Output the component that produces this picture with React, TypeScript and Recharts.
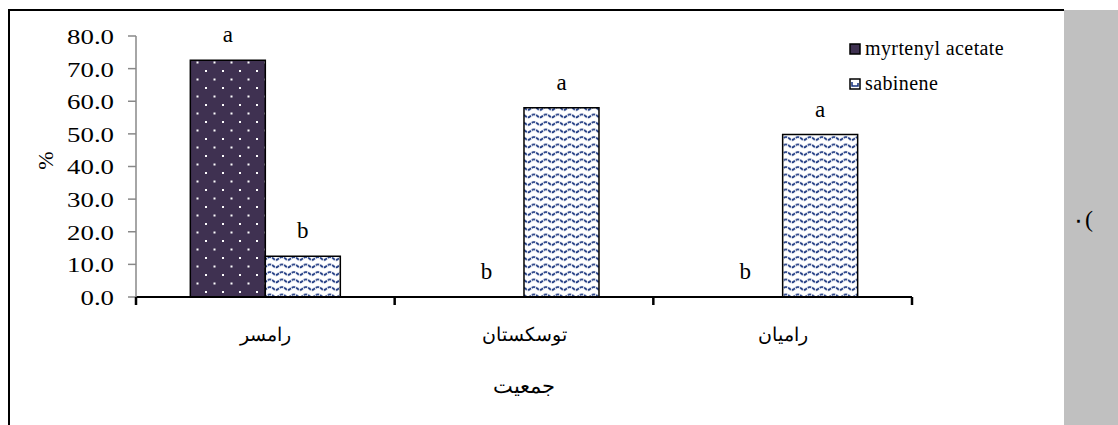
import { BarChart, Bar, XAxis, YAxis, Legend, LabelList } from "recharts";

const categories = ["رامسر", "توسکستان", "رامیان"];
const myrtenylAcetate = [72.6, 0, 0];
const sabinene = [12.5, 58.0, 49.8];
const myrtenylLetters = ["a", "b", "b"];
const sabineneLetters = ["b", "a", "a"];
const yTicks = [0, 10, 20, 30, 40, 50, 60, 70, 80];
const seriesNames = { myrtenyl: "myrtenyl acetate", sabinene: "sabinene" };

const data = categories.map((name, i) => ({
  name,
  myrtenyl: myrtenylAcetate[i],
  sabinene: sabinene[i],
  myrtenylLetter: myrtenylLetters[i],
  sabineneLetter: sabineneLetters[i],
}));

const SERIF = "'Liberation Serif', 'Times New Roman', 'DejaVu Serif', serif";
const PURPLE = "#3f3151";
const NAVY = "#17337d";
const LETTER_GAP = 18;

function CategoryTick(props: any) {
  const { x, y, payload, index, visibleTicksCount, width } = props;
  const half = payload?.offset ?? width / visibleTicksCount / 2;
  return (
    <g>
      <line x1={x - half} x2={x - half} y1={y} y2={y + 8} stroke="#000" strokeWidth={2.5} />
      {index === visibleTicksCount - 1 && (
        <line x1={x + half} x2={x + half} y1={y} y2={y + 8} stroke="#000" strokeWidth={2.5} />
      )}
      <text x={x} y={y + 44} textAnchor="middle" fontSize={19} fontFamily={SERIF} fill="#000">
        {payload.value}
      </text>
    </g>
  );
}

function ValueTick(props: any) {
  const { x, y, payload } = props;
  return (
    <text
      x={0}
      y={0}
      transform={`translate(${x},${y}) scale(1.22,1)`}
      dy="0.36em"
      textAnchor="end"
      fontSize={22}
      fontFamily={SERIF}
      fill="#000"
    >
      {Number(payload.value).toFixed(1)}
    </text>
  );
}

function Letter({ x, y, text }: { x: number; y: number; text: string }) {
  return (
    <text x={x} y={y} textAnchor="middle" fontSize={23} fontFamily={SERIF} fill="#000">
      {text}
    </text>
  );
}

// letters over the dotted bars (only where the bar has a height)
function MyrtenylLetter(props: any) {
  const { x, y, width, height, index } = props;
  if (!height) return null;
  return <Letter x={x + width / 2} y={y - LETTER_GAP} text={myrtenylLetters[index]} />;
}

// letters over the wavy bars, plus the letter of an empty neighbour bar on the axis
function SabineneLetter(props: any) {
  const { x, y, width, height, index } = props;
  const base = y + height;
  return (
    <g>
      <Letter x={x + width / 2} y={y - LETTER_GAP} text={sabineneLetters[index]} />
      {myrtenylAcetate[index] === 0 && (
        <Letter x={x - width / 2} y={base - LETTER_GAP} text={myrtenylLetters[index]} />
      )}
    </g>
  );
}

function LegendBox({ payload }: any) {
  return (
    <div style={{ fontFamily: SERIF, fontSize: 20, color: "#000", letterSpacing: 0.4 }}>
      {(payload || []).map((p: any) => {
        const dark = p.dataKey === "myrtenyl";
        return (
          <div key={p.dataKey} style={{ display: "flex", alignItems: "center", height: 35, whiteSpace: "nowrap" }}>
            <svg width={12} height={12} style={{ marginRight: 4 }}>
              <rect x={1} y={1} width={10} height={10} fill={dark ? PURPLE : "#fff"} stroke="#000" strokeWidth={1.5} />
              {!dark && <path d="M3,4 L3,8 L9,8 L9,5" fill="none" stroke={NAVY} strokeWidth={1.5} />}
            </svg>
            <span>{p.value}</span>
          </div>
        );
      })}
    </div>
  );
}

export default function App() {
  return (
    <div style={{ position: "absolute", left: 0, top: 0, width: 1118, height: 425, background: "#fff", overflow: "hidden" }}>
      <div style={{ position: "absolute", left: 8, top: 9, width: 1056, height: 2, background: "#000" }} />
      <div style={{ position: "absolute", left: 8, top: 9, width: 2, height: 416, background: "#000" }} />
      <div style={{ position: "absolute", left: 1064, top: 10, width: 54, height: 415, background: "#c0c0c0" }} />
      <div style={{ position: "absolute", left: 1072, top: 206, fontSize: 24, fontFamily: SERIF, color: "#000" }}>٠</div>
      <div style={{ position: "absolute", left: 1085, top: 206, fontSize: 24, fontFamily: SERIF, color: "#000", direction: "ltr" }}>(</div>
      <div style={{ position: "absolute", left: 0, top: 0 }}>
        <BarChart
          width={1064}
          height={425}
          data={data}
          margin={{ top: 36, right: 152, left: 36, bottom: 28 }}
          barCategoryGap="21%"
          barGap={0}
        >
          <defs>
            <pattern id="dots" width={17} height={17} patternUnits="userSpaceOnUse">
              <rect width={17} height={17} fill={PURPLE} />
              <rect x={1} y={2} width={2} height={2} fill="#fff" />
              <rect x={9.5} y={10.5} width={2} height={2} fill="#fff" />
            </pattern>
            <pattern id="waves" width={12} height={7.5} patternUnits="userSpaceOnUse">
              <rect width={12} height={7.5} fill="#fff" />
              <path d="M0,5 C2,5 3,2 6,2 C9,2 10,5 12,5" fill="none" stroke={NAVY} strokeWidth={1.8} strokeDasharray="3.5 1" />
            </pattern>
          </defs>
          <XAxis
            dataKey="name"
            height={100}
            axisLine={{ stroke: "#000", strokeWidth: 2 }}
            tickLine={false}
            tickSize={0}
            tickMargin={0}
            tick={<CategoryTick />}
            interval={0}
            label={(p: any) => {
              const vb = p.viewBox;
              return (
                <text x={vb.x + vb.width / 2} y={393} textAnchor="middle" fontSize={21} fontFamily={SERIF} fill="#000">
                  جمعیت
                </text>
              );
            }}
          />
          <YAxis
            width={100}
            domain={[0, 80]}
            ticks={yTicks}
            interval={0}
            axisLine={{ stroke: "#888", strokeWidth: 1.5 }}
            tickLine={{ stroke: "#888", strokeWidth: 1.5 }}
            tickSize={8}
            tickMargin={14}
            tick={<ValueTick />}
            label={(p: any) => {
              const vb = p.viewBox;
              const cx = vb.x + 9;
              const cy = vb.y + vb.height / 2 - 6;
              return (
                <text x={cx} y={cy} transform={`rotate(-90 ${cx} ${cy})`} textAnchor="middle" dominantBaseline="central" fontSize={22} fontFamily={SERIF} fill="#000">
                  %
                </text>
              );
            }}
          />
          <Legend
            layout="vertical"
            verticalAlign="middle"
            align="center"
            content={<LegendBox />}
            wrapperStyle={{ position: "absolute", left: 849, top: 31, width: 210 }}
          />
          <Bar dataKey="myrtenyl" name={seriesNames.myrtenyl} fill="url(#dots)" stroke="#000" strokeWidth={1.5} isAnimationActive={false}>
            <LabelList dataKey="myrtenylLetter" content={<MyrtenylLetter />} />
          </Bar>
          <Bar dataKey="sabinene" name={seriesNames.sabinene} fill="url(#waves)" stroke="#000" strokeWidth={1.5} isAnimationActive={false}>
            <LabelList dataKey="sabineneLetter" content={<SabineneLetter />} />
          </Bar>
        </BarChart>
      </div>
    </div>
  );
}
